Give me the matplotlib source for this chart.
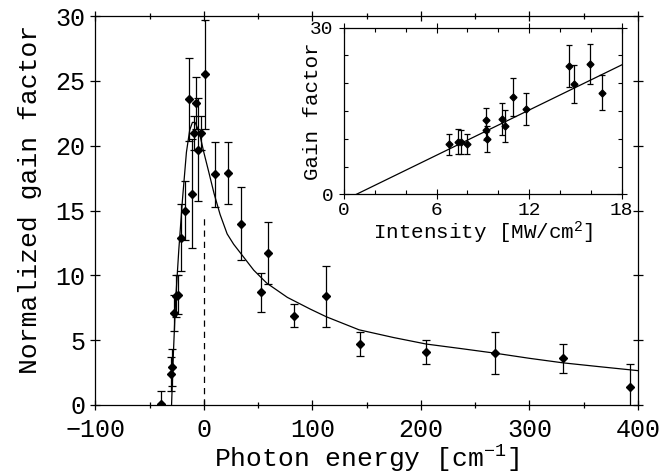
import matplotlib
matplotlib.use('Agg')
import matplotlib.pyplot as plt
import numpy as np

plt.rcParams['font.family'] = ['Liberation Mono', 'DejaVu Sans']
plt.rcParams['mathtext.fontset'] = 'custom'
plt.rcParams['mathtext.rm'] = 'Liberation Mono'
plt.rcParams['mathtext.it'] = 'Liberation Mono'
plt.rcParams['mathtext.bf'] = 'Liberation Mono'

# main plot: measured gain vs photon energy
energy = [-39.5, -30.0, -29.7, -27.4, -25.6, -24.2, -20.9, -17.7, -14.0, -11.3,
          -9.1, -7.4, -5.3, -2.3, 1.2, 10.2, 22.2, 34.4, 52.5, 59.0,
          83.0, 113.0, 143.5, 205.0, 268.0, 331.0, 393.0]
gain = [0.1, 2.4, 2.9, 7.1, 8.4, 8.5, 12.9, 15.0, 23.6, 16.3,
        21.0, 23.3, 19.7, 21.0, 25.5, 17.8, 17.9, 14.0, 8.7, 11.7,
        6.9, 8.4, 4.7, 4.1, 4.0, 3.6, 1.4]
gain_err = [1.0, 1.3, 1.4, 1.4, 1.6, 1.5, 2.6, 2.3, 3.2, 4.2,
            1.3, 2.0, 4.0, 1.3, 4.2, 2.5, 2.4, 2.85, 1.5, 2.4,
            0.9, 2.35, 0.9, 0.95, 1.6, 1.1, 1.75]

# fitted curve
fit_x = [-29.7, -28.0, -26.0, -23.0, -19.5, -16.0, -13.0, -10.5, -8.0, -5.5,
         -3.0, 0.0, 4.5, 9.5, 15.0, 21.5, 27.5, 34.0, 46.0, 58.0,
         77.0, 98.0, 113.0, 143.0, 175.0, 205.0, 237.0, 268.0, 300.0, 331.0,
         365.0, 400.0]
fit_y = [0.0, 4.0, 8.0, 12.0, 16.0, 19.5, 21.2, 21.8, 21.8, 21.3,
         20.6, 19.5, 18.0, 16.3, 14.7, 13.2, 12.4, 11.7, 10.4, 9.4,
         8.3, 7.4, 6.8, 5.8, 5.2, 4.7, 4.35, 4.0, 3.6, 3.25,
         2.95, 2.65]

zero_line_x = 0
zero_line_top = 14.7

# inset: gain factor vs intensity
intensity = [6.81, 7.41, 7.56, 8.0, 9.23, 9.23, 9.25, 10.24, 10.43, 10.93,
             11.8, 14.56, 14.93, 15.97, 16.72]
inset_gain = [9.0, 9.5, 9.4, 9.1, 13.4, 11.6, 10.0, 13.6, 12.3, 17.5,
              15.3, 23.1, 19.8, 23.4, 18.3]
inset_err = [1.9, 2.2, 2.1, 1.8, 2.1, 1.8, 2.3, 2.9, 2.85, 3.4,
             2.9, 3.8, 3.4, 3.6, 3.2]
inset_fit_x = [0.8, 18.0]
inset_fit_y = [0.0, 23.3]

fig = plt.figure(figsize=(6.66, 4.74), dpi=100)
ax = fig.add_axes([0.143, 0.1456, 0.815, 0.8204])

ax.errorbar(energy, gain, yerr=gain_err, fmt='D', color='black', ms=4,
            elinewidth=0.9, capsize=3, capthick=0.9)
ax.plot(fit_x, fit_y, color='black', lw=0.9)
ax.plot([zero_line_x, zero_line_x], [0, zero_line_top], color='black',
        lw=0.9, ls=(0, (5, 4)))

ax.set_xlim(-100, 400)
ax.set_ylim(0, 30)
ax.set_xticks(np.arange(-100, 401, 100))
ax.set_xticks(np.arange(-100, 401, 50), minor=True)
ax.set_xticklabels(['\u2212100', '0', '100', '200', '300', '400'])
ax.set_yticks(np.arange(0, 31, 5))
ax.tick_params(which='both', direction='inout', top=True, right=True,
               length=7, width=0.9, labelsize=18)
ax.tick_params(axis='x', which='major', pad=6)
ax.tick_params(which='minor', length=5)
ax.set_xlabel('Photon energy [cm$^{-1}$]', fontsize=19, labelpad=1)
ax.set_ylabel('Normalized gain factor', fontsize=19)
ax.yaxis.set_label_coords(-0.098, 0.53)
for s in ax.spines.values():
    s.set_linewidth(0.9)

ins = fig.add_axes([0.5165, 0.590, 0.417, 0.3516])
ins.errorbar(intensity, inset_gain, yerr=inset_err, fmt='D', color='black',
             ms=3.5, elinewidth=0.9, capsize=2.5, capthick=0.9)
ins.plot(inset_fit_x, inset_fit_y, color='black', lw=0.9)
ins.set_xlim(0, 18)
ins.set_ylim(0, 30)
ins.set_xticks([0, 6, 12, 18])
ins.set_xticks(np.arange(0, 19, 2), minor=True)
ins.set_yticks([0, 30])
ins.set_yticks(np.arange(0, 31, 5), minor=True)
ins.tick_params(which='major', direction='inout', top=True, right=True,
                length=7, width=0.8, labelsize=14, pad=4)
ins.tick_params(axis='x', which='major', pad=2)
ins.tick_params(which='minor', direction='in', top=True, right=True,
                length=3, width=0.8)
ins.set_xlabel('Intensity [MW/cm$^{2}$]', fontsize=15, labelpad=0)
ins.set_ylabel('Gain factor', fontsize=15)
ins.yaxis.set_label_coords(-0.08, 0.5)
for s in ins.spines.values():
    s.set_linewidth(0.9)

fig.savefig('out.png', dpi=100)
